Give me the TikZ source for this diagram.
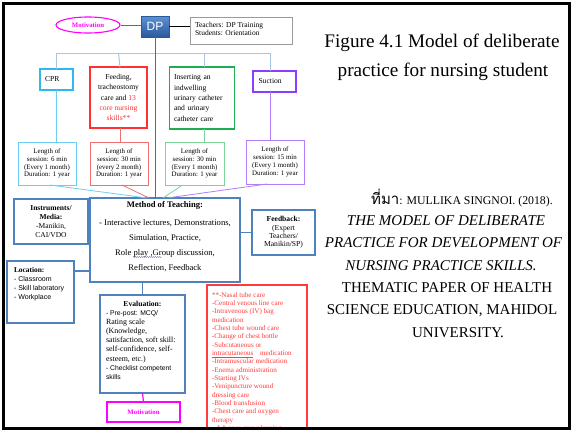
\documentclass[tikz,border=0pt]{standalone}
\usepackage{fontspec}
\setmainfont{Liberation Serif}
\newfontfamily\armfont{Liberation Sans}
\newfontfamily\thaifont[Script=Thai]{Loma}
\usetikzlibrary{shapes.geometric,decorations.pathmorphing}

\newcommand{\fsz}[2]{\fontsize{#1}{#2}\selectfont}

\definecolor{barblue}{HTML}{A9C4E4}
\definecolor{dpline}{HTML}{2E75B6}
\definecolor{methblue}{HTML}{4F81BD}
\definecolor{cprcyan}{HTML}{2EB8F0}
\definecolor{cyanlt}{HTML}{6CCDF5}
\definecolor{feedred}{HTML}{FF3030}
\definecolor{redlt}{HTML}{F07070}
\definecolor{insgreen}{HTML}{1FAE4F}
\definecolor{greenlt}{HTML}{7CD49A}
\definecolor{suctpurple}{HTML}{8B3DFF}
\definecolor{purplelt}{HTML}{B27DF7}
\definecolor{motiv}{HTML}{FF00FF}
\definecolor{listred}{HTML}{FF3B3B}
\definecolor{graybox}{HTML}{9A9A9A}
\definecolor{dptop}{HTML}{5C92D6}
\definecolor{dpbot}{HTML}{2A5A9A}
\definecolor{squig}{HTML}{6A6AD8}

\begin{document}
\begin{tikzpicture}[x=1pt,y=-1pt,
  box/.style={draw,rectangle,inner sep=0pt,outer sep=0pt},
  topic/.style={box,line width=1.4pt},
  sess/.style={box,line width=0.9pt,align=center,font=\fsz{6.9}{7.8}},
  blueb/.style={box,draw=methblue,line width=1.4pt},
  feedline/.style={line width=0.8pt},
  txt/.style={inner sep=0pt,outer sep=0pt},
  cite/.style={txt,font=\fsz{15}{17}},
  citeit/.style={txt,font=\itshape\fsz{15}{17}}]
\useasboundingbox (0,0) rectangle (573,432);
\fill[white] (0,0) rectangle (573,432);

% --- top row: motivation, DP, participants
\node[ellipse,draw=motiv,line width=1.1pt,minimum width=64,minimum height=16,inner sep=0pt,
  font=\bfseries\fsz{6.8}{7},text=motiv] (mot1) at (88,25) {Motivation};
\node[box,draw=dpbot,line width=0.6pt,top color=dptop,bottom color=dpbot,minimum width=28,
  minimum height=21,text=white,font=\armfont\fsz{12}{13}] (dp) at (155,26.5) {DP};
\node[box,draw=graybox,line width=0.6pt,minimum width=102,minimum height=27] (teach) at (241,30.5) {};
\node[txt,anchor=west,align=left,font=\fsz{7.5}{8.5}] (teachtxt) at (195,28.8)
  {Teachers: DP Training\\Students: Orientation};
\draw[motiv,line width=0.9pt] (mot1.east) -- (mot1.east -| dp.west);
\draw[black,line width=0.8pt] (dp.east) -- (dp.east -| teach.west);

% --- skill boxes
\node[topic,draw=cprcyan,minimum width=33,minimum height=21,inner xsep=5pt,text width=23,
  align=left,font=\fsz{7.6}{8.5}] (cpr) at (56.5,79.5) {CPR};
\node[topic,draw=feedred,minimum width=57,minimum height=61,align=center,font=\fsz{7.6}{10.4}]
  (feed) at (118.5,97.5) {Feeding,\\tracheostomy\\care and {\color{feedred}13}\\
  {\color{feedred}core nursing}\\{\color{feedred}skills**}};
\node[topic,draw=insgreen,minimum height=62,inner xsep=4.5pt,text width=56,align=left,
  font=\fsz{7.6}{10.4}] (ins) at (202,98) {Inserting an\\indwelling\\urinary catheter\\and urinary\\catheter care};
\node[topic,draw=suctpurple,minimum width=43,minimum height=21,inner xsep=5.5pt,text width=32,
  align=left,font=\fsz{7.6}{8.5}] (suc) at (274.5,81.5) {Suction};

\coordinate (barY) at (0,53);
\coordinate (sucdrop) at (270,92);
\draw[barblue,line width=1pt] (cpr.north) -- (cpr.north |- barY) -- (sucdrop |- barY) -- (sucdrop |- suc.north);
\draw[barblue,line width=1pt] (feed.north |- barY) -- ([xshift=1.5pt]feed.north);
\draw[barblue,line width=1pt] ([xshift=2pt]ins.north |- barY) -- ([xshift=2pt]ins.north);

% --- session boxes
\node[sess,draw=cyanlt,minimum width=58,minimum height=43] (s1) at (47,163.5)
  {Length of\\session: 6 min\\(Every 1 month)\\Duration: 1 year};
\node[sess,draw=redlt,minimum width=58,minimum height=43] (s2) at (119,163.5)
  {Length of\\session: 30 min\\(every 2 month)\\Duration: 1 year};
\node[sess,draw=greenlt,minimum width=59,minimum height=43] (s3) at (194.5,163.5)
  {Length of\\session: 30 min\\(Every 1 month)\\Duration: 1 year};
\node[sess,draw=purplelt,minimum width=58,minimum height=44] (s4) at (275,162)
  {Length of\\session: 15 min\\(Every 1 month)\\Duration: 1 year};

\draw[cyanlt,line width=1pt] (cpr.south) -- (cpr.south |- s1.north);
\draw[redlt,line width=1pt] ([xshift=1.5pt]feed.south) -- ([xshift=1.5pt]feed.south |- s2.north);
\draw[greenlt,line width=1pt] ([xshift=2pt]ins.south) -- ([xshift=2pt]ins.south |- s3.north);
\draw[purplelt,line width=1pt] (sucdrop) -- (sucdrop |- s4.north);

% --- method of teaching
\node[blueb,minimum width=150,minimum height=84] (method) at (165,240) {};
\node[txt,align=center,font=\fsz{8.6}{15}] (methtxt) at (165,236.8)
  {\textbf{Method of Teaching:}\\[2.5pt]- Interactive lectures, Demonstrations,\\Simulation, Practice,\\
   Role play ,Group discussion,\\Reflection, Feedback};
% spell-check squiggle under "play ,Group"
\draw[squig,line width=0.4pt,decorate,decoration={snake,amplitude=0.5pt,segment length=2pt}]
  ([xshift=-32pt,yshift=-17pt]method.center) -- ([xshift=-3pt,yshift=-17pt]method.center);
\draw[dpline,line width=1pt] (dp.south) -- (dp.south |- method.north);
\coordinate (hub) at (dp.south |- method.north);
\draw[cyanlt,feedline] ([xshift=3pt]s1.south) -- ([xshift=-8pt]hub);
\draw[redlt,feedline] ([xshift=3pt]s2.south) -- ([xshift=-6pt]hub);
\draw[greenlt,feedline] ([xshift=-12pt]s3.south) -- ([xshift=8pt]hub);
\draw[purplelt,feedline] ([xshift=-8pt]s4.south) -- ([xshift=12pt]hub);

% --- side boxes
\node[blueb,minimum width=74,minimum height=45,align=center,font=\fsz{7.5}{9}] (instr) at (51,221.5)
  {\textbf{Instruments/}\\\textbf{Media:}\\-Manikin,\\CAI/VDO};
\draw[methblue,line width=1.2pt] (instr.east) -- (instr.east -| method.west);

\node[blueb,minimum width=63,minimum height=45,align=center,font=\fsz{7.6}{8.4}] (fb) at (283.5,232.5)
  {\textbf{Feedback:}\\(Expert\\Teachers/\\Manikin/SP)};
\draw[methblue,line width=1.2pt] (fb.west -| method.east) -- (fb.west);

\node[blueb,minimum width=67,minimum height=62] (loc) at (40.5,292) {};
\node[txt,anchor=north west,align=left,font=\fsz{7.4}{9}] (loctxt) at (14,267)
  {\textbf{Location:}\\{\armfont\fsz{7}{9}- Classroom}\\{\armfont\fsz{7}{9}- Skill laboratory}\\
   {\armfont\fsz{7}{9}- Workplace}};
\draw[methblue,line width=1.2pt] ([yshift=-10pt]loc.north east) -- ([yshift=-10pt]loc.north east -| method.west);

% --- evaluation
\node[blueb,minimum width=85,minimum height=98] (eval) at (142.5,344) {};
\node[txt,font=\bfseries\fsz{7.6}{9}] (evtitle) at (142.5,304) {Evaluation:};
\node[txt,anchor=north west,align=left,font=\fsz{7.9}{9.2}] (evtxt) at (106,310.2)
  {{\armfont\fsz{6.8}{9.2}- Pre-post: MCQ/}\\Rating scale\\(Knowledge,\\satisfaction, soft skill:\\
   self-confidence, self-\\esteem, etc.)\\{\armfont\fsz{6.8}{9.2}- Checklist competent}\\
   {\armfont\fsz{6.8}{9.2}skills}};
\draw[methblue,line width=1.2pt] (method.south -| eval.north) -- (eval.north);

\node[box,draw=motiv,line width=1.4pt,minimum width=73,minimum height=20,text=motiv,
  font=\bfseries\fsz{6.8}{7}] (mot2) at (143.5,412) {Motivation};
\draw[motiv,line width=1.2pt] (eval.south) -- (mot2.north);

% --- list of core nursing skills (runs past the frame)
\begin{scope}
\clip (0,0) rectangle (573,428);
\node[box,draw=listred,line width=1.2pt,minimum width=100,minimum height=150] (core) at (257,360) {};
\node[txt,anchor=north west,align=left,text=listred,font=\fsz{7.1}{8.33}] (coretxt) at (212,292.3)
  {**-Nasal tube care\\-Central venous line care\\-Intravenous (IV) bag\\medication\\
   -Chest tube wound care\\-Change of chest bottle\\-Subcutaneous or\\
   \underline{intracutaneous}\hspace{5pt} medication\\-Intramuscular medication\\-Enema administration\\
   -Starting IVs\\-Venipuncture wound\\dressing care\\-Blood transfusion\\-Chest care and oxygen\\
   therapy\\- Advance care planning};
\end{scope}

% --- caption and reference
\node[txt,font=\fsz{19.2}{22}] (cap1) at (442,43) {Figure 4.1 Model of deliberate};
\node[txt,font=\fsz{19.2}{22}] (cap2) at (443,72) {practice for nursing student};

\node[txt,font=\fsz{11.8}{15}] (cite1) at (462,198) {{\thaifont\fsz{15}{17}ที่มา}: MULLIKA SINGNOI. (2018).};
\node[citeit] (cite2) at (446,220.5) {THE MODEL OF DELIBERATE};
\node[citeit] (cite3) at (443.5,243) {PRACTICE FOR DEVELOPMENT OF};
\node[citeit] (cite4) at (441,265.5) {NURSING PRACTICE SKILLS.};
\node[cite] (cite5) at (447,288) {THEMATIC PAPER OF HEALTH};
\node[cite] (cite6) at (442,310.5) {SCIENCE EDUCATION, MAHIDOL};
\node[cite] (cite7) at (458,333) {UNIVERSITY.};

% --- outer frame
\draw[black,line width=2.6pt] (3.3,3.3) rectangle (569.7,428.7);
\end{tikzpicture}
\end{document}
